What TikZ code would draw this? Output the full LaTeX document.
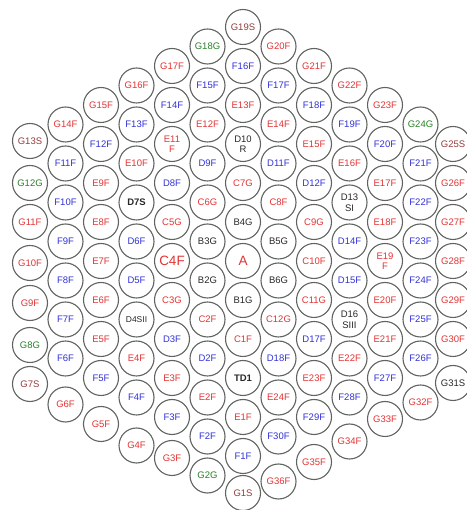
\documentclass[tikz,border=0pt]{standalone}
\usepackage{fontspec}
\setmainfont{Liberation Sans}
\definecolor{cred}{RGB}{226,52,52}
\definecolor{cblue}{RGB}{50,50,215}
\definecolor{cgreen}{RGB}{40,130,40}
\definecolor{cmaroon}{RGB}{150,60,60}
\definecolor{cblack}{RGB}{40,40,40}
\definecolor{cring}{RGB}{95,100,95}
\tikzset{
  cell/.style={circle, draw=cring, line width=1.1pt, fill=white, minimum size=35pt,
    inner sep=0pt, font=\fontsize{9.5}{10.5}\selectfont, align=center},
  big/.style={font=\fontsize{13.5}{14}\selectfont},
  small/.style={font=\fontsize{8.5}{9}\selectfont},
  edge/.style={xshift=-3pt},
}
\newcommand\cellat[6][]{\node[cell, text=#5, #1] (#2) at ({243+35.5*(#3)},{249-39*(#4)}) {#6};}
\begin{document}
\begin{tikzpicture}[x=1pt,y=1pt]
\useasboundingbox (0,0) rectangle (466,510);
% column 0
\cellat{G19S}{0}{-6}{cmaroon}{G19S}
\cellat{F16F}{0}{-5}{cblue}{F16F}
\cellat{E13F}{0}{-4}{cred}{E13F}
\cellat{D10R}{0}{-3}{cblack}{D10\\R}
\cellat{C7G}{0}{-2}{cred}{C7G}
\cellat{B4G}{0}{-1}{cblack}{B4G}
\cellat[big]{A}{0}{0}{cred}{A}
\cellat{B1G}{0}{1}{cblack}{B1G}
\cellat{C1F}{0}{2}{cred}{C1F}
\cellat{TD1}{0}{3}{cblack}{\bfseries TD1}
\cellat{E1F}{0}{4}{cred}{E1F}
\cellat{F1F}{0}{5}{cblue}{F1F}
\cellat[yshift=2pt]{G1S}{0}{6}{cmaroon}{G1S}
% column -1
\cellat{G18G}{-1}{-5.5}{cgreen}{G18G}
\cellat{F15F}{-1}{-4.5}{cblue}{F15F}
\cellat{E12F}{-1}{-3.5}{cred}{E12F}
\cellat{D9F}{-1}{-2.5}{cblue}{D9F}
\cellat{C6G}{-1}{-1.5}{cred}{C6G}
\cellat{B3G}{-1}{-0.5}{cblack}{B3G}
\cellat{B2G}{-1}{0.5}{cblack}{B2G}
\cellat{C2F}{-1}{1.5}{cred}{C2F}
\cellat{D2F}{-1}{2.5}{cblue}{D2F}
\cellat{E2F}{-1}{3.5}{cred}{E2F}
\cellat{F2F}{-1}{4.5}{cblue}{F2F}
\cellat{G2G}{-1}{5.5}{cgreen}{G2G}
% column -2
\cellat{G17F}{-2}{-5}{cred}{G17F}
\cellat{F14F}{-2}{-4}{cblue}{F14F}
\cellat{E11F}{-2}{-3}{cred}{E11\\F}
\cellat{D8F}{-2}{-2}{cblue}{D8F}
\cellat{C5G}{-2}{-1}{cred}{C5G}
\cellat[big]{C4F}{-2}{0}{cred}{C4F}
\cellat{C3G}{-2}{1}{cred}{C3G}
\cellat{D3F}{-2}{2}{cblue}{D3F}
\cellat{E3F}{-2}{3}{cred}{E3F}
\cellat{F3F}{-2}{4}{cblue}{F3F}
\cellat[yshift=-2pt]{G3F}{-2}{5}{cred}{G3F}
% column -3
\cellat{G16F}{-3}{-4.5}{cred}{G16F}
\cellat{F13F}{-3}{-3.5}{cblue}{F13F}
\cellat{E10F}{-3}{-2.5}{cred}{E10F}
\cellat{D7S}{-3}{-1.5}{cblack}{\bfseries D7S}
\cellat{D6F}{-3}{-0.5}{cblue}{D6F}
\cellat{D5F}{-3}{0.5}{cblue}{D5F}
\cellat[small]{D4SII}{-3}{1.5}{cblack}{D4SII}
\cellat{E4F}{-3}{2.5}{cred}{E4F}
\cellat{F4F}{-3}{3.5}{cblue}{F4F}
\cellat[yshift=-9pt]{G4F}{-3}{4.5}{cred}{G4F}
% column -4
\cellat{G15F}{-4}{-4}{cred}{G15F}
\cellat{F12F}{-4}{-3}{cblue}{F12F}
\cellat{E9F}{-4}{-2}{cred}{E9F}
\cellat{E8F}{-4}{-1}{cred}{E8F}
\cellat{E7F}{-4}{0}{cred}{E7F}
\cellat{E6F}{-4}{1}{cred}{E6F}
\cellat{E5F}{-4}{2}{cred}{E5F}
\cellat{F5F}{-4}{3}{cblue}{F5F}
\cellat[yshift=-7pt]{G5F}{-4}{4}{cred}{G5F}
% column -5
\cellat{G14F}{-5}{-3.5}{cred}{G14F}
\cellat{F11F}{-5}{-2.5}{cblue}{F11F}
\cellat{F10F}{-5}{-1.5}{cblue}{F10F}
\cellat{F9F}{-5}{-0.5}{cblue}{F9F}
\cellat{F8F}{-5}{0.5}{cblue}{F8F}
\cellat{F7F}{-5}{1.5}{cblue}{F7F}
\cellat{F6F}{-5}{2.5}{cblue}{F6F}
\cellat[yshift=-7pt]{G6F}{-5}{3.5}{cred}{G6F}
% column -6
\cellat[yshift=3pt]{G13S}{-6}{-3}{cmaroon}{G13S}
\cellat{G12G}{-6}{-2}{cgreen}{G12G}
\cellat{G11F}{-6}{-1}{cred}{G11F}
\cellat[yshift=-2pt]{G10F}{-6}{0}{cred}{G10F}
\cellat[yshift=-3pt]{G9F}{-6}{1}{cred}{G9F}
\cellat[yshift=-6pt]{G8G}{-6}{2}{cgreen}{G8G}
\cellat[yshift=-6pt]{G7S}{-6}{3}{cmaroon}{G7S}
% column 1
\cellat{G20F}{1}{-5.5}{cred}{G20F}
\cellat{F17F}{1}{-4.5}{cblue}{F17F}
\cellat{E14F}{1}{-3.5}{cred}{E14F}
\cellat{D11F}{1}{-2.5}{cblue}{D11F}
\cellat{C8F}{1}{-1.5}{cred}{C8F}
\cellat{B5G}{1}{-0.5}{cblack}{B5G}
\cellat{B6G}{1}{0.5}{cblack}{B6G}
\cellat{C12G}{1}{1.5}{cred}{C12G}
\cellat{D18F}{1}{2.5}{cblue}{D18F}
\cellat{E24F}{1}{3.5}{cred}{E24F}
\cellat{F30F}{1}{4.5}{cblue}{F30F}
\cellat[yshift=-6pt]{G36F}{1}{5.5}{cred}{G36F}
% column 2
\cellat{G21F}{2}{-5}{cred}{G21F}
\cellat{F18F}{2}{-4}{cblue}{F18F}
\cellat{E15F}{2}{-3}{cred}{E15F}
\cellat{D12F}{2}{-2}{cblue}{D12F}
\cellat{C9G}{2}{-1}{cred}{C9G}
\cellat{C10F}{2}{0}{cred}{C10F}
\cellat{C11G}{2}{1}{cred}{C11G}
\cellat{D17F}{2}{2}{cblue}{D17F}
\cellat{E23F}{2}{3}{cred}{E23F}
\cellat{F29F}{2}{4}{cblue}{F29F}
\cellat[yshift=-6pt]{G35F}{2}{5}{cred}{G35F}
% column 3
\cellat{G22F}{3}{-4.5}{cred}{G22F}
\cellat{F19F}{3}{-3.5}{cblue}{F19F}
\cellat{E16F}{3}{-2.5}{cred}{E16F}
\cellat{D13SI}{3}{-1.5}{cblack}{D13\\SI}
\cellat{D14F}{3}{-0.5}{cblue}{D14F}
\cellat{D15F}{3}{0.5}{cblue}{D15F}
\cellat{D16SIII}{3}{1.5}{cblack}{D16\\SIII}
\cellat{E22F}{3}{2.5}{cred}{E22F}
\cellat{F28F}{3}{3.5}{cblue}{F28F}
\cellat[yshift=-5pt]{G34F}{3}{4.5}{cred}{G34F}
% column 4
\cellat{G23F}{4}{-4}{cred}{G23F}
\cellat{F20F}{4}{-3}{cblue}{F20F}
\cellat{E17F}{4}{-2}{cred}{E17F}
\cellat{E18F}{4}{-1}{cred}{E18F}
\cellat{E19F}{4}{0}{cred}{E19\\F}
\cellat{E20F}{4}{1}{cred}{E20F}
\cellat{E21F}{4}{2}{cred}{E21F}
\cellat{F27F}{4}{3}{cblue}{F27F}
\cellat[yshift=-2pt]{G33F}{4}{4}{cred}{G33F}
% column 5
\cellat{G24G}{5}{-3.5}{cgreen}{G24G}
\cellat{F21F}{5}{-2.5}{cblue}{F21F}
\cellat{F22F}{5}{-1.5}{cblue}{F22F}
\cellat{F23F}{5}{-0.5}{cblue}{F23F}
\cellat{F24F}{5}{0.5}{cblue}{F24F}
\cellat{F25F}{5}{1.5}{cblue}{F25F}
\cellat{F26F}{5}{2.5}{cblue}{F26F}
\cellat[yshift=-5pt]{G32F}{5}{3.5}{cred}{G32F}
% column 6
\cellat[edge]{G25S}{6}{-3}{cmaroon}{G25S}
\cellat[edge]{G26F}{6}{-2}{cred}{G26F}
\cellat[edge]{G27F}{6}{-1}{cred}{G27F}
\cellat[edge]{G28F}{6}{0}{cred}{G28F}
\cellat[edge]{G29F}{6}{1}{cred}{G29F}
\cellat[edge]{G30F}{6}{2}{cred}{G30F}
\cellat[edge,yshift=-5pt]{G31S}{6}{3}{cblack}{G31S}
\end{tikzpicture}
\end{document}
